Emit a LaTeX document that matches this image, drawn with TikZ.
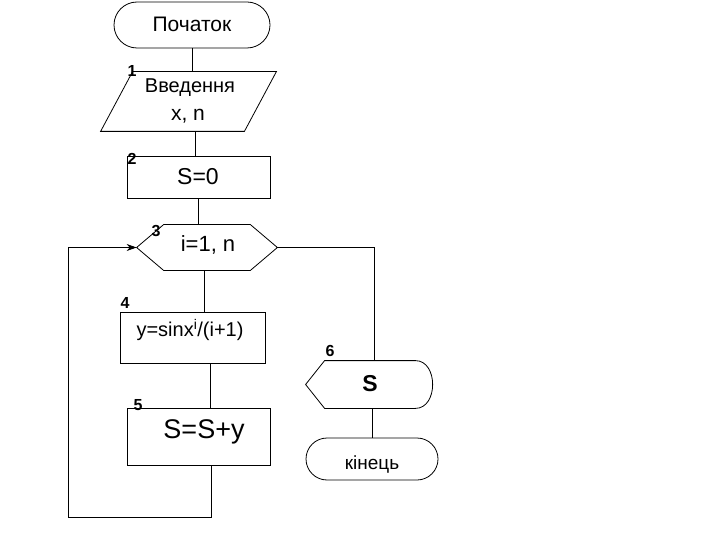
\documentclass[tikz,border=0pt]{standalone}
\usepackage{fontspec}
\setmainfont{Liberation Sans}
\usetikzlibrary{shapes.misc,arrows.meta}
\begin{document}
\begin{tikzpicture}[x=1pt,y=-1pt,line width=0.8pt,
  box/.style={draw,rectangle,inner sep=0pt},
  term/.style={draw,rounded rectangle,inner sep=0pt},
  ghost/.style={rectangle,inner sep=0pt},
  txt/.style={inner sep=0pt,font=\fontsize{21}{25}\selectfont},
  num/.style={inner sep=0pt,font=\fontsize{16}{18}\selectfont\bfseries},
  arr/.style={-{Stealth[length=10pt,width=7pt]}}]
\useasboundingbox (0,0) rectangle (720,540);
% shapes
\node[term,minimum width=156pt,minimum height=46pt] (start) at (192,25) {};
\node[txt] at (192,24) {Початок};
\node[ghost,minimum width=175pt,minimum height=59pt] (in) at (188.5,101.5) {};
\draw ([xshift=32pt]in.north west) -- (in.north east) -- ([xshift=-32pt]in.south east) -- (in.south west) -- cycle;
\node[inner sep=0pt,font=\fontsize{20}{24}\selectfont] at (190,88) {Введення};
\node[txt] at (188,116) {x, n};
\node[box,minimum width=143pt,minimum height=42pt] (s0) at (198.5,177) {};
\node[inner sep=0pt,font=\fontsize{23}{27}\selectfont] at (198,177) {S=0};
\node[ghost,minimum width=140pt,minimum height=45pt] (loop) at (207,247.5) {};
\draw (loop.west) -- ([xshift=27pt]loop.north west) -- ([xshift=-27pt]loop.north east) -- (loop.east) -- ([xshift=-27pt]loop.south east) -- ([xshift=27pt]loop.south west) -- cycle;
\node[inner sep=0pt,font=\fontsize{22}{26}\selectfont] at (208,245) {i=1, n};
\node[box,minimum width=145pt,minimum height=51pt] (body) at (192.5,337.5) {};
\node[inner sep=0pt,font=\fontsize{20}{24}\selectfont] at (190,330) {y=sinx\textsuperscript{i}/(i+1)};
\node[box,minimum width=143pt,minimum height=57pt] (acc) at (198.5,436.5) {};
\node[inner sep=0pt,font=\fontsize{27}{31}\selectfont] at (204,432) {S=S+y};
\node[ghost,minimum width=126pt,minimum height=47pt] (out) at (369,384.5) {};
\draw (out.west) -- ([xshift=19pt]out.north west) -- ([xshift=-17pt]out.north east)
  .. controls ([xshift=6pt]out.north east) and ([xshift=6pt]out.south east) .. ([xshift=-17pt]out.south east)
  -- ([xshift=19pt]out.south west) -- cycle;
\node[inner sep=0pt,font=\fontsize{23}{27}\selectfont\bfseries] at (370,384) {S};
\node[term,minimum width=132pt,minimum height=42pt] (end) at (372,459) {};
\node[inner sep=0pt,font=\fontsize{19}{23}\selectfont] at (372,465) {кінець};
% numbers
\node[num] at (132,71) {1};
\node[num] at (132,159) {2};
\node[num] at (156,231) {3};
\node[num] at (125,303) {4};
\node[num] at (138,405) {5};
\node[num] at (330,351) {6};
% connectors
\draw (start.south) -- (start.south |- in.north);
\draw ([xshift=7pt]in.south) -- ([xshift=7pt]in.south |- s0.north);
\draw (s0.south) -- (s0.south |- loop.north);
\draw ([xshift=-3pt]loop.south) -- ([xshift=-3pt]loop.south |- body.north);
\draw ([xshift=17.5pt]body.south) -- ([xshift=17.5pt]body.south |- acc.north);
\coordinate (lb) at (68,517);
\draw[arr] ([xshift=12.5pt]acc.south) |- (lb) |- (loop.west);
\draw (loop.east) -| ([xshift=5pt]out.north);
\draw (out.south -| end.north) -- (end.north);
\end{tikzpicture}
\end{document}
